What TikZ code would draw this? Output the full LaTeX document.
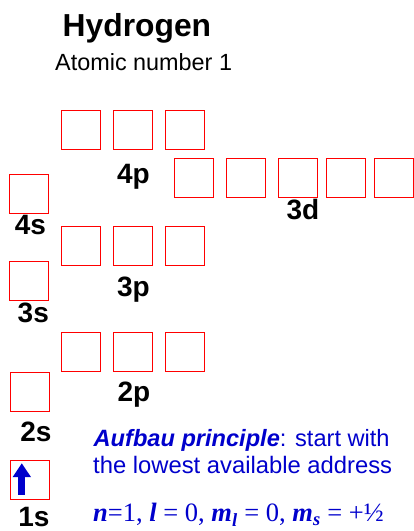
\documentclass[tikz,border=0pt]{standalone}
\usepackage{fontspec}
\setmainfont{Liberation Sans}
\newfontfamily\timesf{Liberation Serif}
\usetikzlibrary{arrows.meta}
\definecolor{aublue}{RGB}{0,0,204}
\begin{document}
\begin{tikzpicture}[x=1pt,y=-1pt,
  orb/.style={draw=red, line width=1pt, minimum size=39pt, inner sep=0pt, anchor=north west},
  lbl/.style={font=\fontsize{28}{28}\selectfont\bfseries, anchor=base, inner sep=0pt}]
\useasboundingbox (0,0) rectangle (414,531);
% title
\node[anchor=base west, inner sep=0pt, font=\fontsize{31.8}{31.8}\selectfont\bfseries] (title) at (62.5,36) {Hydrogen};
\node[anchor=base west, inner sep=0pt, font=\fontsize{23.4}{23.4}\selectfont] (atnum) at (55,70) {Atomic number 1};
% 4p
\node[orb] (p4a) at (61,110) {};
\node[orb] (p4b) at (113,110) {};
\node[orb] (p4c) at (165,110) {};
\node[lbl] (l4p) at (133.5,183) {4p};
% 3d
\node[orb] (d3a) at (174,158) {};
\node[orb] (d3b) at (226,158) {};
\node[orb] (d3c) at (278,158) {};
\node[orb] (d3d) at (326,158) {};
\node[orb] (d3e) at (374,158) {};
\node[lbl] (l3d) at (303,219) {3d};
% 4s
\node[orb] (s4) at (9,174) {};
\node[lbl] (l4s) at (30.5,234.3) {4s};
% 3p
\node[orb] (p3a) at (61,226) {};
\node[orb] (p3b) at (113,226) {};
\node[orb] (p3c) at (165,226) {};
\node[lbl] (l3p) at (133.5,296.7) {3p};
% 3s
\node[orb] (s3) at (8.5,261) {};
\node[lbl] (l3s) at (33.3,322.7) {3s};
% 2p
\node[orb] (p2a) at (61,331.5) {};
\node[orb] (p2b) at (113,331.5) {};
\node[orb] (p2c) at (165,331.5) {};
\node[lbl] (l2p) at (134,401.7) {2p};
% 2s
\node[orb] (s2) at (10,371.5) {};
\node[lbl] (l2s) at (36,441) {2s};
% 1s
\node[orb] (s1) at (10,459.5) {};
\node[lbl] (l1s) at (34,526.5) {1s};
\coordinate (arrB) at ([xshift=-8.2pt,yshift=-15pt]s1.center);
\coordinate (arrT) at ([xshift=-8.2pt,yshift=16.3pt]s1.center);
\draw[aublue, line width=7pt, -{Triangle[width=17.5pt,length=14pt]}] (arrB) -- (arrT);
% text
\node[anchor=base west, inner sep=0pt, text=aublue, font=\fontsize{23.6}{23.6}\selectfont] (auf1) at (93.5,446) {\textbf{\textit{Aufbau principle}}: start with};
\node[anchor=base west, inner sep=0pt, text=aublue, font=\fontsize{23.8}{23.8}\selectfont] (auf2) at (93,473.3) {the lowest available address};
\node[anchor=base west, inner sep=0pt, text=aublue, font=\timesf\fontsize{26.5}{26.5}\selectfont] (qn) at (93,521.7) {\textbf{\textit{n}}=1, \textbf{\textit{l}} = 0, \textbf{\textit{m}}\textsubscript{\textbf{\textit{l}}} = 0, \textbf{\textit{m}}\textsubscript{\textbf{\textit{s}}} = +½};
\end{tikzpicture}
\end{document}
